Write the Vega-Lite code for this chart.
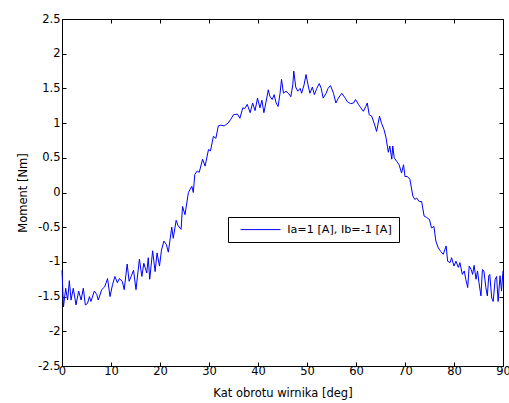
{
  "$schema": "https://vega.github.io/schema/vega-lite/v6.json",
  "width": 441,
  "height": 347,
  "autosize": {"type": "none"},
  "padding": {"left": 62, "top": 19, "right": 6, "bottom": 37},
  "background": "white",
  "config": {
    "font": "DejaVu Sans",
    "view": {"stroke": "black", "strokeWidth": 1},
    "axis": {
      "grid": false,
      "domainColor": "black",
      "tickColor": "black",
      "labelColor": "black",
      "titleColor": "black",
      "labelFont": "DejaVu Sans",
      "titleFont": "DejaVu Sans",
      "labelFontSize": 11.5,
      "titleFontSize": 11.5,
      "titleFontWeight": "normal",
      "tickSize": -4,
      "domainWidth": 1,
      "tickWidth": 1,
      "labelFlush": false,
      "labelOverlap": false,
      "labelExpr": "'' + datum.value"
    }
  },
  "data": {
    "values": [
      {"x": 0.0, "y": -1.12}, {"x": 0.3, "y": -1.65}, {"x": 0.75, "y": -1.38}, {"x": 1.15, "y": -1.55},
      {"x": 1.5, "y": -1.27}, {"x": 1.84, "y": -1.55}, {"x": 2.3, "y": -1.38}, {"x": 2.86, "y": -1.62},
      {"x": 3.4, "y": -1.42}, {"x": 3.9, "y": -1.55}, {"x": 4.35, "y": -1.38}, {"x": 4.76, "y": -1.62},
      {"x": 5.2, "y": -1.6}, {"x": 5.6, "y": -1.5}, {"x": 5.9, "y": -1.57}, {"x": 6.6, "y": -1.42},
      {"x": 7.1, "y": -1.47}, {"x": 7.4, "y": -1.55}, {"x": 8.1, "y": -1.4}, {"x": 8.7, "y": -1.36},
      {"x": 9.3, "y": -1.24}, {"x": 9.8, "y": -1.5}, {"x": 10.3, "y": -1.33}, {"x": 10.8, "y": -1.21},
      {"x": 11.3, "y": -1.3}, {"x": 11.7, "y": -1.24}, {"x": 12.3, "y": -1.28}, {"x": 12.7, "y": -1.4},
      {"x": 13.3, "y": -1.03}, {"x": 13.7, "y": -1.28}, {"x": 14.1, "y": -1.21}, {"x": 14.6, "y": -1.12},
      {"x": 15.1, "y": -1.4}, {"x": 15.8, "y": -0.96}, {"x": 16.3, "y": -1.21}, {"x": 16.7, "y": -1.02},
      {"x": 17.3, "y": -1.16}, {"x": 17.6, "y": -0.94}, {"x": 17.9, "y": -1.25}, {"x": 18.5, "y": -0.84},
      {"x": 19.0, "y": -1.14}, {"x": 19.4, "y": -0.87}, {"x": 19.9, "y": -1.06}, {"x": 20.3, "y": -0.83},
      {"x": 20.8, "y": -0.7}, {"x": 21.3, "y": -0.75}, {"x": 21.7, "y": -0.86}, {"x": 22.4, "y": -0.5},
      {"x": 22.7, "y": -0.66}, {"x": 23.3, "y": -0.4}, {"x": 23.7, "y": -0.48}, {"x": 24.3, "y": -0.53},
      {"x": 24.6, "y": -0.2}, {"x": 25.1, "y": -0.32}, {"x": 25.8, "y": 0.0}, {"x": 26.5, "y": 0.09},
      {"x": 26.8, "y": 0.0}, {"x": 27.1, "y": 0.26}, {"x": 27.6, "y": 0.31}, {"x": 28.0, "y": 0.29},
      {"x": 28.7, "y": 0.48}, {"x": 29.2, "y": 0.38}, {"x": 29.9, "y": 0.62}, {"x": 30.3, "y": 0.6},
      {"x": 30.9, "y": 0.81}, {"x": 31.4, "y": 0.78}, {"x": 31.9, "y": 0.96}, {"x": 32.4, "y": 0.97},
      {"x": 33.1, "y": 0.96}, {"x": 33.9, "y": 1.0}, {"x": 34.4, "y": 1.05}, {"x": 35.0, "y": 1.12},
      {"x": 35.8, "y": 1.13}, {"x": 36.3, "y": 1.07}, {"x": 36.9, "y": 1.22}, {"x": 37.3, "y": 1.21},
      {"x": 37.8, "y": 1.27}, {"x": 38.4, "y": 1.15}, {"x": 38.9, "y": 1.29}, {"x": 39.4, "y": 1.18},
      {"x": 39.9, "y": 1.36}, {"x": 40.4, "y": 1.22}, {"x": 40.8, "y": 1.33}, {"x": 41.2, "y": 1.15},
      {"x": 41.6, "y": 1.29}, {"x": 42.1, "y": 1.48}, {"x": 42.4, "y": 1.39}, {"x": 42.9, "y": 1.34},
      {"x": 43.3, "y": 1.41}, {"x": 43.7, "y": 1.29}, {"x": 44.1, "y": 1.24}, {"x": 44.5, "y": 1.43},
      {"x": 44.8, "y": 1.63}, {"x": 45.2, "y": 1.43}, {"x": 45.7, "y": 1.46}, {"x": 46.2, "y": 1.43},
      {"x": 46.7, "y": 1.38}, {"x": 47.1, "y": 1.55}, {"x": 47.3, "y": 1.75}, {"x": 47.7, "y": 1.52},
      {"x": 48.1, "y": 1.46}, {"x": 48.6, "y": 1.5}, {"x": 48.9, "y": 1.43}, {"x": 49.4, "y": 1.55},
      {"x": 49.8, "y": 1.7}, {"x": 50.3, "y": 1.52}, {"x": 50.6, "y": 1.43}, {"x": 51.1, "y": 1.52},
      {"x": 51.5, "y": 1.41}, {"x": 52.0, "y": 1.5}, {"x": 52.5, "y": 1.57}, {"x": 52.9, "y": 1.5},
      {"x": 53.3, "y": 1.36}, {"x": 53.9, "y": 1.43}, {"x": 54.3, "y": 1.5}, {"x": 54.8, "y": 1.54},
      {"x": 55.4, "y": 1.43}, {"x": 55.9, "y": 1.29}, {"x": 56.4, "y": 1.36}, {"x": 57.1, "y": 1.43},
      {"x": 57.8, "y": 1.36}, {"x": 58.2, "y": 1.31}, {"x": 58.9, "y": 1.28}, {"x": 59.5, "y": 1.29},
      {"x": 59.9, "y": 1.34}, {"x": 60.5, "y": 1.27}, {"x": 61.0, "y": 1.22}, {"x": 61.5, "y": 1.17},
      {"x": 62.0, "y": 1.24}, {"x": 62.3, "y": 1.29}, {"x": 62.7, "y": 1.12}, {"x": 63.2, "y": 1.1},
      {"x": 63.7, "y": 1.0}, {"x": 64.2, "y": 0.88}, {"x": 64.8, "y": 1.1}, {"x": 65.2, "y": 1.0},
      {"x": 65.7, "y": 0.91}, {"x": 66.1, "y": 0.8}, {"x": 66.6, "y": 0.58}, {"x": 66.9, "y": 0.67},
      {"x": 67.3, "y": 0.48}, {"x": 67.5, "y": 0.67}, {"x": 67.8, "y": 0.5}, {"x": 68.3, "y": 0.45},
      {"x": 68.8, "y": 0.4}, {"x": 69.3, "y": 0.28}, {"x": 69.7, "y": 0.4}, {"x": 70.0, "y": 0.23},
      {"x": 70.5, "y": 0.23}, {"x": 71.0, "y": 0.19}, {"x": 71.6, "y": -0.05}, {"x": 72.0, "y": -0.1},
      {"x": 72.4, "y": -0.08}, {"x": 72.9, "y": -0.13}, {"x": 73.4, "y": -0.13}, {"x": 73.9, "y": -0.34},
      {"x": 74.4, "y": -0.36}, {"x": 75.0, "y": -0.39}, {"x": 75.4, "y": -0.51}, {"x": 75.9, "y": -0.49},
      {"x": 76.3, "y": -0.7}, {"x": 76.8, "y": -0.8}, {"x": 77.3, "y": -0.85}, {"x": 77.8, "y": -0.89},
      {"x": 78.4, "y": -0.77}, {"x": 78.7, "y": -0.99}, {"x": 79.2, "y": -1.01}, {"x": 79.5, "y": -0.94},
      {"x": 80.0, "y": -1.06}, {"x": 80.4, "y": -0.99}, {"x": 80.9, "y": -1.08}, {"x": 81.2, "y": -1.01},
      {"x": 81.7, "y": -1.18}, {"x": 82.1, "y": -1.13}, {"x": 82.4, "y": -1.25}, {"x": 82.8, "y": -1.37},
      {"x": 83.1, "y": -1.06}, {"x": 83.5, "y": -1.11}, {"x": 83.8, "y": -1.18}, {"x": 84.1, "y": -1.05},
      {"x": 84.5, "y": -1.25}, {"x": 84.8, "y": -1.13}, {"x": 85.1, "y": -1.3}, {"x": 85.5, "y": -1.49},
      {"x": 85.8, "y": -1.11}, {"x": 86.1, "y": -1.13}, {"x": 86.5, "y": -1.37}, {"x": 86.8, "y": -1.49},
      {"x": 87.1, "y": -1.2}, {"x": 87.3, "y": -1.18}, {"x": 87.7, "y": -1.52}, {"x": 88.0, "y": -1.57},
      {"x": 88.4, "y": -1.25}, {"x": 88.7, "y": -1.21}, {"x": 89.0, "y": -1.57}, {"x": 89.4, "y": -1.2},
      {"x": 89.7, "y": -1.42}, {"x": 90.0, "y": -1.13}
    ]
  },
  "transform": [{"calculate": "'Ia=1 [A], Ib=-1 [A]'", "as": "series"}],
  "layer": [
    {
      "mark": {"type": "line", "strokeWidth": 1, "interpolate": "linear"},
      "encoding": {
        "x": {"field": "x", "type": "quantitative", "scale": {"domain": [0, 90], "nice": false, "zero": false},
          "axis": {"orient": "bottom", "values": [0,10,20,30,40,50,60,70,80,90], "title": "Kat obrotu wirnika [deg]", "labelPadding": 3, "titlePadding": 11}},
        "y": {"field": "y", "type": "quantitative", "scale": {"domain": [-2.5, 2.5], "nice": false, "zero": false},
          "axis": {"orient": "left", "values": [-2.5,-2,-1.5,-1,-0.5,0,0.5,1,1.5,2,2.5], "title": "Moment [Nm]", "labelPadding": 6, "titlePadding": 9}},
        "color": {"field": "series", "type": "nominal", "scale": {"range": ["#0000ff"]},
          "legend": {"title": null, "orient": "none", "legendX": 166, "legendY": 198, "padding": 7,
            "strokeColor": "black", "fillColor": "white", "symbolType": "M0,0L10.5,0", "symbolSize": 57.76,
            "symbolStrokeWidth": 1, "labelFontSize": 11.2, "labelFont": "DejaVu Sans", "labelColor": "black", "labelOffset": 41}}
      }
    },
    {
      "mark": {"type": "line", "strokeOpacity": 0},
      "encoding": {
        "x": {"field": "x", "type": "quantitative", "axis": {"orient": "top", "values": [0,10,20,30,40,50,60,70,80,90], "labels": false, "title": null}},
        "y": {"field": "y", "type": "quantitative", "axis": {"orient": "right", "values": [-2.5,-2,-1.5,-1,-0.5,0,0.5,1,1.5,2,2.5], "labels": false, "title": null}}
      }
    }
  ],
  "resolve": {"axis": {"x": "independent", "y": "independent"}}
}
